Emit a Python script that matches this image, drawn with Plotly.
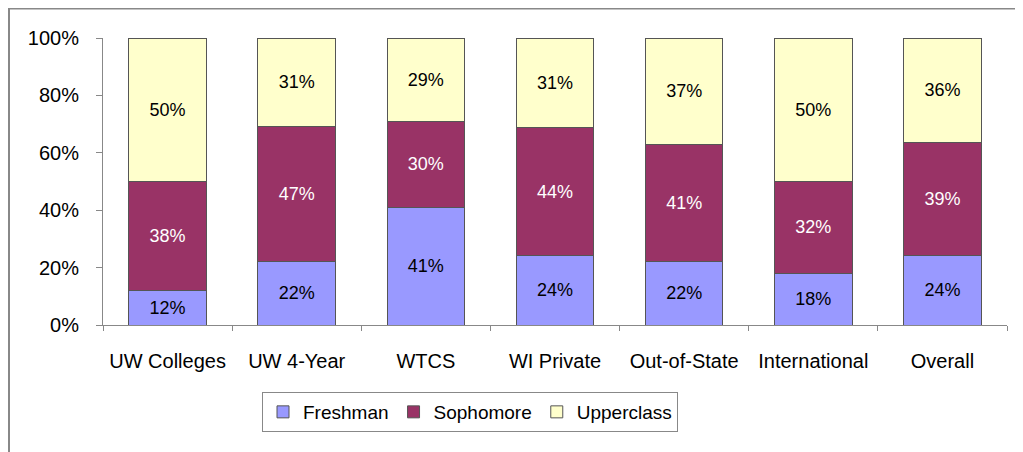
import plotly.graph_objects as go

categories = ["UW Colleges", "UW 4-Year", "WTCS", "WI Private", "Out-of-State", "International", "Overall"]
freshman = [12, 22, 41, 24, 22, 18, 24]
sophomore = [38, 47, 30, 44, 41, 32, 39]
upperclass = [50, 31, 29, 31, 37, 50, 36]
series = [
    ("Freshman", freshman, "#9999FF", "black"),
    ("Sophomore", sophomore, "#993366", "white"),
    ("Upperclass", upperclass, "#FFFFCC", "black"),
]
y_ticks = [0, 20, 40, 60, 80, 100]
y_ticklabels = ["0%", "20%", "40%", "60%", "80%", "100%"]

FONT = "Liberation Sans, Arial, sans-serif"

fig = go.Figure()
for name, vals, color, tcolor in series:
    fig.add_trace(go.Bar(
        x=categories, y=vals, name=name,
        marker=dict(color=color, line=dict(color="#555555", width=1)),
        text=[f"{v}%" for v in vals],
        textposition="inside", insidetextanchor="middle",
        textfont=dict(family=FONT, size=18, color=tcolor),
        constraintext="none",
    ))

W, H = 1023, 452
OFF = 8  # page body margin
L, R, T, B = 95, 24, 30, 135
pw = W - L - R
ph = H - T - B

def px_x(p):
    return (p - OFF - L) / pw

def px_y(p):
    return (H - B - (p - OFF)) / ph

fig.update_layout(
    barmode="stack",
    barnorm="percent",
    bargap=0.4,
    width=W, height=H,
    margin=dict(l=L, r=R, t=T, b=B, pad=0),
    paper_bgcolor="white", plot_bgcolor="white",
    font=dict(family=FONT, size=18, color="black"),
    showlegend=True,
    legend=dict(
        orientation="h",
        x=px_x(262), xanchor="left",
        y=px_y(392), yanchor="top",
        bordercolor="#888888", borderwidth=1,
        font=dict(family=FONT, size=19, color="black"),
        itemwidth=30,
        traceorder="normal",
        itemclick=False,
    ),
    xaxis=dict(
        type="category",
        showline=True, linecolor="#888888", linewidth=1,
        ticks="outside", tickson="boundaries", ticklen=5, tickcolor="#888888",
        tickfont=dict(family=FONT, size=20, color="black"),
        ticklabelstandoff=18,
        showgrid=False, zeroline=False,
    ),
    yaxis=dict(
        range=[0, 100],
        tickvals=y_ticks, ticktext=y_ticklabels,
        showline=True, linecolor="#888888", linewidth=1,
        ticks="outside", ticklen=6, tickcolor="#888888",
        tickfont=dict(family=FONT, size=20, color="black"),
        ticklabelstandoff=13,
        showgrid=False, zeroline=False,
    ),
    shapes=[
        dict(type="rect", xref="paper", yref="paper",
             x0=px_x(9), x1=px_x(1200), y0=px_y(600), y1=px_y(8.5),
             line=dict(color="#888888", width=2), fillcolor="rgba(0,0,0,0)",
             layer="below"),
    ],
)

fig.write_html("out.html")
